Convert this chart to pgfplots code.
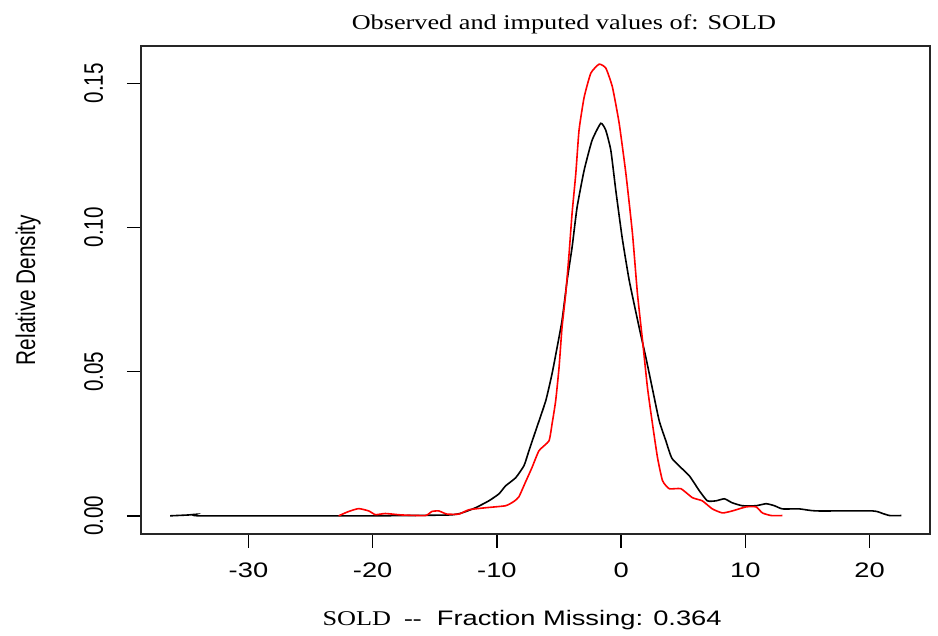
\documentclass[border=0pt]{standalone}
\usepackage{fontspec}
\setmainfont{Liberation Sans}[FakeStretch=1.3]
\newfontfamily\plainsans{Liberation Sans}
\newfontfamily\titlefont{Liberation Serif}[FakeStretch=1.25]
\usepackage{pgfplots}
\pgfplotsset{compat=1.18}
\usepackage{graphicx}
\begin{document}
\begin{tikzpicture}
\useasboundingbox (0,0) rectangle (469pt,318pt);
\begin{axis}[
  at={(70.5pt,51pt)}, anchor=south west,
  scale only axis, width=394.5pt, height=244pt,
  xmin=-38.65, xmax=24.86, ymin=-0.0063, ymax=0.1629,
  xtick={-30,-20,-10,0,10,20},
  xticklabels={-30,-20,-10,0,10,20},
  ytick={0,0.05,0.1,0.15},
  yticklabels={{\scalebox{1}[1.3]{0.00}},{\scalebox{1}[1.3]{0.05}},{\scalebox{1}[1.3]{0.10}},{\scalebox{1}[1.3]{0.15}}},
  xtick pos=left, ytick pos=left,
  tick align=outside, major tick length=7pt,
  tick style={black, line width=0.7pt},
  axis line style={line width=0.8pt, black!85},
  xticklabel style={anchor=base, font=\fontsize{10.5}{12}\selectfont},
  xticklabel shift=15pt,
  yticklabel style={rotate=90, anchor=base, font=\plainsans\fontsize{10.3}{12}\selectfont},
  yticklabel shift=12pt,
  every axis title/.style={at={(axis description cs:0.536,1.0348)}, anchor=base, font=\titlefont\fontsize{10.5}{12}\selectfont},
  every axis x label/.style={at={(axis description cs:0.483,-0.1885)}, anchor=base, font=\fontsize{10.5}{12}\selectfont},
  every axis y label/.style={at={(axis description cs:-0.1343,0.5)}, rotate=90, anchor=base, font=\plainsans\fontsize{10.4}{12}\selectfont},
  title={Observed and imputed values of: SOLD},
  xlabel={{\titlefont SOLD\ \ -{}-}\ \ Fraction Missing: 0.364},
  ylabel={\scalebox{1}[1.3]{Relative Density}},
]
\addplot[black, line width=0.8pt, smooth, tension=0.3] coordinates {
(-36.3,0)(-34.8,0.0003)(-34.3,0.0005)(-33.8,0)(-20,0)(-13.87,0.0003)(-12.82,0.0010)(-11.72,0.0028)(-10.65,0.0052)(-9.84,0.0076)(-9.30,0.0104)(-8.49,0.0132)(-7.82,0.0174)(-7.42,0.0226)(-6.88,0.0295)(-6.07,0.0399)(-5.56,0.0493)(-5.16,0.0583)(-4.76,0.0677)(-4.35,0.0816)(-3.95,0.0931)(-3.55,0.1069)(-2.98,0.1198)(-2.34,0.1302)(-1.64,0.1361)(-1.24,0.1337)(-0.83,0.1267)(-0.43,0.1128)(0.08,0.0965)(0.65,0.0816)(1.45,0.0653)(1.99,0.0549)(2.50,0.0444)(3.06,0.0330)(3.60,0.0260)(4.11,0.0198)(5.48,0.0139)(6.29,0.0087)(6.94,0.0052)(7.64,0.0052)(8.31,0.0059)(8.95,0.0045)(9.76,0.0035)(10.86,0.0035)(11.67,0.0042)(12.34,0.0035)(12.98,0.0024)(14.35,0.0024)(15.70,0.0017)(20.24,0.0017)(21.05,0.0008)(21.61,0.0001)(22.56,0.0001)
};
\addplot[red, line width=0.8pt, smooth, tension=0.3] coordinates {
(-22.74,0)(-21.94,0.0015)(-21.13,0.0025)(-20.32,0.0017)(-19.78,0.0004)(-18.98,0.0008)(-17.66,0.0003)(-15.75,0.0001)(-15.24,0.0015)(-14.68,0.0017)(-14.03,0.0006)(-13.06,0.0006)(-12.26,0.0021)(-10.91,0.0028)(-9.30,0.0035)(-8.63,0.0050)(-8.23,0.0066)(-7.69,0.0118)(-7.18,0.0167)(-6.61,0.0226)(-5.81,0.0260)(-5.56,0.0319)(-5.27,0.0399)(-5.00,0.0514)(-4.76,0.0653)(-4.46,0.0771)(-4.19,0.0910)(-3.95,0.1049)(-3.65,0.1187)(-3.39,0.1337)(-2.98,0.1451)(-2.44,0.1535)(-1.77,0.1566)(-1.23,0.1552)(-0.70,0.1486)(-0.16,0.1361)(0.38,0.1187)(0.91,0.0979)(1.31,0.0771)(1.72,0.0608)(2.12,0.0444)(2.52,0.0319)(2.93,0.0201)(3.33,0.0122)(3.87,0.0094)(4.81,0.0094)(5.73,0.0063)(6.53,0.0052)(7.34,0.0024)(8.15,0.0010)(8.95,0.0017)(10.06,0.0031)(10.86,0.0031)(11.37,0.0010)(12.07,0.0001)(12.98,0.0001)
};
\end{axis}
\end{tikzpicture}
\end{document}
